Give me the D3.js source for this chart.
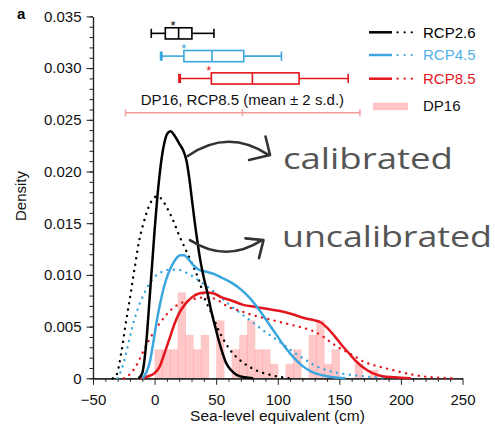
<!DOCTYPE html>
<html>
<head>
<meta charset="utf-8">
<script src="https://cdn.jsdelivr.net/npm/d3@7"></script>
<style>
  body { margin: 0; background: #fff; }
  svg { display: block; font-family: "Liberation Sans", Arial, Helvetica, sans-serif; }
</style>
</head>
<body>
<svg id="chart" width="495" height="426"></svg>
<script>
// ---- data ----
const xTicks = [-50, 0, 50, 100, 150, 200, 250];
const yTicks = [0, 0.005, 0.010, 0.015, 0.020, 0.025, 0.030, 0.035];

// DP16 RCP8.5 histogram (bin start in cm, density), bins of 6.25 cm
const binWidth = 6.25;
const binStarts = [0, 6.25, 12.5, 18.75, 25, 31.25, 37.5, 43.75, 50, 56.25, 62.5, 68.75, 75, 81.25,
  87.5, 93.75, 100, 106.25, 112.5, 118.75, 125, 131.25, 137.5, 143.75, 150, 156.25, 162.5, 168.75, 175];
const dp16Density = [0.0028, 0.0028, 0.0028, 0.0083, 0.0042, 0.0028, 0.0042, 0, 0.0056, 0, 0.0028,
  0.0042, 0.0056, 0.0028, 0.0028, 0.0014, 0, 0.0014, 0.0028, 0, 0.0042, 0.0056, 0.0014, 0.0028,
  0, 0, 0.0014, 0, 0.0008];

// density curves [cm, density]
const rcp26Cal = [[-13, 0], [-10, 0.0005], [-8, 0.002], [-6, 0.0045], [-4, 0.0078], [-2, 0.011],
  [0, 0.0143], [2, 0.0172], [4, 0.0196], [6, 0.0215], [8, 0.0228], [10, 0.0236], [13, 0.0239],
  [16, 0.0235], [20, 0.0227], [23, 0.0221], [26, 0.021], [28, 0.0195], [30, 0.0176], [33.5, 0.0143],
  [37, 0.0115], [40, 0.0097], [43, 0.0082], [46, 0.0065], [49, 0.0051], [52, 0.0037], [55, 0.0025],
  [58, 0.0015], [62, 0.0008], [67, 0.0003], [73, 0.0001], [80, 0]];
const rcp26Unc = [[-34, 0], [-31, 0.0003], [-27, 0.0025], [-23, 0.0056], [-19, 0.0085], [-16, 0.0108],
  [-13, 0.013], [-9, 0.015], [-5, 0.0165], [-1, 0.0174], [2, 0.0176], [6, 0.0173], [10, 0.0165],
  [15, 0.0153], [20, 0.0138], [25, 0.0125], [30, 0.0112], [36, 0.0095], [41, 0.0076], [45, 0.0066],
  [53, 0.0044], [61, 0.0028], [72, 0.0015], [82, 0.0008], [95, 0.0003], [110, 0]];
const rcp45Cal = [[-10, 0], [-7, 0.0005], [-4, 0.0015], [-1, 0.0035], [2, 0.0057], [5, 0.0075],
  [8, 0.009], [11, 0.0101], [14, 0.0109], [17, 0.0115], [21, 0.0119], [24, 0.0119], [27, 0.0116],
  [31, 0.011], [36, 0.0105], [42, 0.0103], [48, 0.0101], [55, 0.0097], [63, 0.0092], [70, 0.0086],
  [77, 0.0078], [85, 0.0066], [92, 0.0054], [99, 0.0042], [106, 0.003], [113, 0.002], [120, 0.0012],
  [128, 0.0006], [136, 0.0003], [145, 0.0001], [155, 0]];
const rcp45Unc = [[-30, 0], [-27, 0.0008], [-24, 0.002], [-21, 0.0035], [-18, 0.005], [-14, 0.0066],
  [-10, 0.0078], [-5, 0.009], [0, 0.0098], [6, 0.0103], [12, 0.0105], [19, 0.0105], [26, 0.0102],
  [33, 0.0097], [40, 0.0091], [47, 0.0085], [55, 0.0077], [63, 0.0069], [72, 0.0061], [82, 0.0052],
  [92, 0.0043], [102, 0.0035], [112, 0.0026], [121, 0.0019], [131, 0.0012], [142, 0.0007],
  [155, 0.0004], [170, 0.0002], [190, 0]];
const rcp85Cal = [[-12, 0], [-5, 0.0002], [0, 0.0005], [4, 0.0011], [8, 0.0024], [12, 0.0038],
  [16, 0.0052], [20, 0.0063], [25, 0.0072], [30, 0.0078], [36, 0.0082], [42, 0.0083], [48, 0.0082],
  [55, 0.0078], [63, 0.0075], [72, 0.0071], [82, 0.0069], [92, 0.0067], [102, 0.0065], [112, 0.0062],
  [122, 0.0058], [130, 0.0056], [135, 0.0054], [140, 0.0049], [146, 0.0041], [152, 0.0032],
  [158, 0.0024], [164, 0.0016], [170, 0.001], [177, 0.0005], [185, 0.0002], [195, 0.0001], [208, 0]];
const rcp85Unc = [[-25, 0], [-20, 0.0004], [-15, 0.0012], [-10, 0.0024], [-5, 0.0036], [0, 0.0046],
  [4, 0.0053], [10, 0.0062], [16, 0.0069], [22, 0.0073], [30, 0.0076], [38, 0.0078], [45, 0.0078],
  [52, 0.0075], [60, 0.0069], [70, 0.0065], [80, 0.0061], [90, 0.0058], [100, 0.0055], [110, 0.0052],
  [120, 0.0049], [128, 0.0046], [136, 0.0041], [144, 0.0034], [152, 0.0028], [160, 0.0023],
  [170, 0.0016], [180, 0.0012], [190, 0.0009], [200, 0.0006], [212, 0.0003], [225, 0.0001], [245, 0]];

// box plots: [low whisker, q1, median, q3, high whisker], star position
const scenarios = ["RCP2.6", "RCP4.5", "RCP8.5"];
const boxStats = [[-2.7, 8.7, 19.5, 30.3, 48.2], [5.4, 23.8, 46.6, 72.4, 103], [20.3, 46.1, 79.4, 117.3, 157.2]];
const boxStars = [15, 23.8, 44.1];
const boxLevels = [0.03336, 0.03116, 0.02900];  // vertical placement in density units

// DP16 RCP8.5 mean and mean +/- 2 s.d.
const dp16Range = [-23.6, 71.3, 166.7];
const dp16Level = 0.02569;

const colors = ["#000000", "#3aa6dd", "#e3161d"];
const legendText = ["#000000", "#4fb2e6", "#e3161d"];

// ---- chart ----
const svg = d3.select("#chart");
const x = d3.scaleLinear().domain([-50, 250]).range([93, 462.5]);
const y = d3.scaleLinear().domain([0, 0.035]).range([378.3, 16.4]);

// histogram
const bars = binStarts.map((b, i) => ({ x0: b, v: dp16Density[i] })).filter(d => d.v > 0);
svg.append("g").selectAll("rect")
  .data(bars).join("rect")
  .attr("x", d => x(d.x0))
  .attr("width", d => x(d.x0 + binWidth) - x(d.x0) + 0.6)
  .attr("y", d => y(d.v))
  .attr("height", d => y(0) - y(d.v))
  .attr("fill", "#ff6e6e")
  .attr("fill-opacity", 0.38);

// axes
const xAxis = svg.append("g").attr("transform", "translate(0," + y(0) + ")");
xAxis.call(d3.axisBottom(x).tickValues(d3.range(-50, 251, 10).filter(v => v % 50 !== 0))
  .tickSize(3.5).tickSizeOuter(0).tickFormat(""));
xAxis.append("g").call(d3.axisBottom(x).tickValues(xTicks).tickSize(6.5).tickSizeOuter(0).tickPadding(9.5));

const yAxis = svg.append("g").attr("transform", "translate(" + x(-50) + ",0)");
yAxis.call(d3.axisLeft(y).tickValues(d3.range(0, 36).map(v => v / 1000)).tickSize(3.5).tickSizeOuter(0).tickFormat(""));
yAxis.append("g").call(d3.axisLeft(y).tickValues(yTicks).tickSize(6.5).tickSizeOuter(0).tickPadding(5)
  .tickFormat(d => d === 0 ? "0" : d3.format(".3f")(d)));

svg.selectAll(".domain").attr("stroke", "#222").attr("stroke-width", 1.2);
svg.selectAll(".tick line").attr("stroke", "#222").attr("stroke-width", 1);
svg.selectAll(".tick text").attr("font-size", 15).attr("fill", "#111")
  .attr("font-family", "'Liberation Sans', Arial, sans-serif");

svg.append("text").attr("x", 277.5).attr("y", 420.5).attr("text-anchor", "middle")
  .attr("font-size", 15.5).attr("fill", "#111").text("Sea-level equivalent (cm)");
svg.append("text").attr("transform", "translate(25.5,196) rotate(-90)").attr("text-anchor", "middle")
  .attr("font-size", 15).attr("fill", "#111").text("Density");
svg.append("text").attr("x", 17).attr("y", 18.5).attr("font-size", 15).attr("font-weight", "bold")
  .text("a");

// density curves
const line = d3.line().x(d => x(d[0])).y(d => y(d[1])).curve(d3.curveMonotoneX);
const uncal = [rcp26Unc, rcp45Unc, rcp85Unc];
const cal = [rcp26Cal, rcp45Cal, rcp85Cal];
uncal.forEach((s, i) => {
  svg.append("path").attr("d", line(s)).attr("fill", "none").attr("stroke", colors[i])
    .attr("stroke-width", 2.4).attr("stroke-linecap", "round").attr("stroke-dasharray", "0.1 6.4");
});
[2, 1, 0].forEach(i => {
  svg.append("path").attr("d", line(cal[i])).attr("fill", "none").attr("stroke", colors[i])
    .attr("stroke-width", 2.5).attr("stroke-linejoin", "round");
});

// box plots
const bh = 5.6, ch = 4.6;
boxStats.forEach((s, i) => {
  const g = svg.append("g").attr("stroke", colors[i]).attr("stroke-width", 1.6).attr("fill", "none");
  const yc = y(boxLevels[i]);
  g.append("line").attr("x1", x(s[0])).attr("x2", x(s[1])).attr("y1", yc).attr("y2", yc);
  g.append("line").attr("x1", x(s[3])).attr("x2", x(s[4])).attr("y1", yc).attr("y2", yc);
  g.append("line").attr("x1", x(s[0])).attr("x2", x(s[0])).attr("y1", yc - ch).attr("y2", yc + ch)
    .attr("stroke-width", i === 0 ? 1.6 : 3);
  g.append("line").attr("x1", x(s[4])).attr("x2", x(s[4])).attr("y1", yc - ch).attr("y2", yc + ch);
  g.append("rect").attr("x", x(s[1])).attr("y", yc - bh).attr("width", x(s[3]) - x(s[1])).attr("height", 2 * bh)
    .attr("fill", "#fff");
  g.append("line").attr("x1", x(s[2])).attr("x2", x(s[2])).attr("y1", yc - bh).attr("y2", yc + bh);
  svg.append("text").attr("x", x(boxStars[i])).attr("y", yc - 3.5).attr("text-anchor", "middle")
    .attr("font-size", 13).attr("fill", colors[i]).text("*");
});

// DP16 mean +/- 2 s.d.
const ly = y(dp16Level);
const sd = svg.append("g").attr("stroke", "#f39d9d").attr("stroke-width", 1.5);
sd.append("line").attr("x1", x(dp16Range[0])).attr("x2", x(dp16Range[2])).attr("y1", ly).attr("y2", ly);
dp16Range.forEach(v => sd.append("line").attr("x1", x(v)).attr("x2", x(v)).attr("y1", ly - 3.5).attr("y2", ly + 3.5));
svg.append("text").attr("x", x(dp16Range[1])).attr("y", ly - 8).attr("text-anchor", "middle")
  .attr("font-size", 15).attr("fill", "#111").text("DP16, RCP8.5 (mean ± 2 s.d.)");

// legend
const legY = [32.3, 55, 78.7];
scenarios.forEach((name, i) => {
  svg.append("line").attr("x1", 369).attr("x2", 392).attr("y1", legY[i]).attr("y2", legY[i])
    .attr("stroke", colors[i]).attr("stroke-width", 2.5);
  svg.append("line").attr("x1", 397.5).attr("x2", 412).attr("y1", legY[i]).attr("y2", legY[i])
    .attr("stroke", colors[i]).attr("stroke-width", 2.2).attr("stroke-linecap", "round")
    .attr("stroke-dasharray", "0.1 7");
  svg.append("text").attr("x", 423).attr("y", legY[i] + 5.3).attr("font-size", 15)
    .attr("fill", legendText[i]).text(name);
});
svg.append("rect").attr("x", 373).attr("y", 102.7).attr("width", 35).attr("height", 7.5)
  .attr("fill", "#ff6e6e").attr("fill-opacity", 0.4);
svg.append("text").attr("x", 423).attr("y", 111).attr("font-size", 15).attr("fill", "#111").text("DP16");

// annotations
const notes = [
  { label: "calibrated", from: [27, 0.0215], ctrl: [59.6, 0.0242], to: [92.5, 0.0216],
    head: [[-4.5, -18.5], [0, 0], [-21, 5]], tx: 283, ty: 169, tl: 170 },
  { label: "uncalibrated", from: [28.7, 0.01336], ctrl: [58, 0.01111], to: [87.2, 0.01336],
    head: [[-18, -1.8], [0, 0], [-4.5, 18]], tx: 282, ty: 247, tl: 210 }
];
notes.forEach(n => {
  const p0 = [x(n.from[0]), y(n.from[1])], c = [x(n.ctrl[0]), y(n.ctrl[1])], p1 = [x(n.to[0]), y(n.to[1])];
  const path = d3.path();
  path.moveTo(p0[0], p0[1]);
  path.quadraticCurveTo(c[0], c[1], p1[0], p1[1]);
  svg.append("path").attr("d", path.toString()).attr("fill", "none").attr("stroke", "#333")
    .attr("stroke-width", 2.6).attr("stroke-linecap", "round");
  svg.append("path").attr("d", d3.line()(n.head.map(h => [p1[0] + 1.5 + h[0], p1[1] + h[1]])))
    .attr("fill", "none").attr("stroke", "#333").attr("stroke-width", 2.6)
    .attr("stroke-linecap", "round").attr("stroke-linejoin", "round");
  svg.append("text").attr("x", n.tx).attr("y", n.ty).attr("font-size", 30)
    .attr("font-family", "'Open Sans', 'DejaVu Sans', sans-serif").attr("font-weight", 400)
    .attr("fill", "#555").attr("textLength", n.tl).attr("lengthAdjust", "spacingAndGlyphs").text(n.label);
});
</script>
</body>
</html>
